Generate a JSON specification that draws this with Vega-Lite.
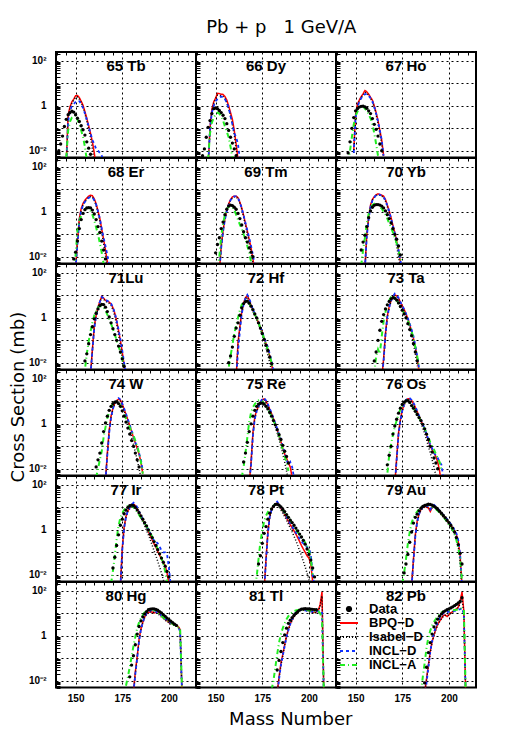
{
"$schema":"https://vega.github.io/schema/vega-lite/v6.json",
"background":"white",
"padding":{"left":9,"top":19,"right":5,"bottom":5},
"title":{"text":"Pb + p \u00a0 1 GeV/A","font":"DejaVu Sans","fontSize":18,"fontWeight":"normal","color":"black","anchor":"middle","dx":38,"offset":12},
"data":{"values":[
{"z":"65 Tb","a":141,"d":0.01},
{"z":"65 Tb","a":142,"d":0.02},
{"z":"65 Tb","a":143,"d":0.045},
{"z":"65 Tb","a":144,"d":0.12},
{"z":"65 Tb","a":145,"d":0.25,"b":0.003,"i":0.002,"n":0.003,"g":0.005},
{"z":"65 Tb","a":146,"d":0.4,"b":0.4,"i":0.3,"n":0.2,"g":0.08},
{"z":"65 Tb","a":147,"d":0.5,"b":0.9,"i":0.75,"n":0.6,"g":0.2},
{"z":"65 Tb","a":148,"d":0.58,"b":1.5,"i":1.3,"n":1.0,"g":0.3},
{"z":"65 Tb","a":149,"d":0.52,"b":2.0,"i":1.8,"n":1.2,"g":0.36},
{"z":"65 Tb","a":150,"d":0.4,"b":2.8,"i":2.4,"n":1.5,"g":0.38},
{"z":"65 Tb","a":151,"d":0.28,"b":2.9,"i":2.5,"n":1.7,"g":0.25},
{"z":"65 Tb","a":152,"d":0.2,"b":2.3,"i":2.0,"n":1.6,"g":0.15},
{"z":"65 Tb","a":153,"d":0.13,"b":1.6,"i":1.4,"n":1.2,"g":0.08},
{"z":"65 Tb","a":154,"d":0.085,"b":1.05,"i":0.9,"n":0.8,"g":0.04},
{"z":"65 Tb","a":155,"d":0.05,"b":0.55,"i":0.45,"n":0.45,"g":0.015},
{"z":"65 Tb","a":156,"d":0.025,"b":0.28,"i":0.2,"n":0.25,"g":0.004},
{"z":"65 Tb","a":157,"d":0.013,"b":0.13,"i":0.09,"n":0.12},
{"z":"65 Tb","a":158,"d":0.007,"b":0.06,"i":0.04,"n":0.06},
{"z":"65 Tb","a":159,"b":0.025,"i":0.012,"n":0.03},
{"z":"65 Tb","a":160,"b":0.008,"i":0.003,"n":0.02},
{"z":"65 Tb","a":161,"b":0.002,"n":0.012},
{"z":"65 Tb","a":162,"n":0.01},
{"z":"65 Tb","a":163,"n":0.008},
{"z":"65 Tb","a":164,"n":0.006},
{"z":"65 Tb","a":165,"n":0.003},
{"z":"66 Dy","a":143,"d":0.006},
{"z":"66 Dy","a":144,"d":0.012},
{"z":"66 Dy","a":145,"d":0.04},
{"z":"66 Dy","a":146,"d":0.11,"b":0.002,"i":0.002,"n":0.002,"g":0.004},
{"z":"66 Dy","a":147,"d":0.22,"b":0.1,"i":0.08,"n":0.1,"g":0.06},
{"z":"66 Dy","a":148,"d":0.45,"b":0.7,"i":0.6,"n":0.5,"g":0.18},
{"z":"66 Dy","a":149,"d":0.75,"b":1.5,"i":1.3,"n":1.0,"g":0.3},
{"z":"66 Dy","a":150,"d":0.8,"b":2.2,"i":2.0,"n":1.6,"g":0.42},
{"z":"66 Dy","a":151,"d":0.75,"b":3.6,"i":3.0,"n":2.0,"g":0.5},
{"z":"66 Dy","a":152,"d":0.62,"b":3.5,"i":3.0,"n":2.4,"g":0.45},
{"z":"66 Dy","a":153,"d":0.5,"b":3.3,"i":2.8,"n":2.6,"g":0.35},
{"z":"66 Dy","a":154,"d":0.38,"b":3.2,"i":2.6,"n":2.5,"g":0.22},
{"z":"66 Dy","a":155,"d":0.27,"b":2.6,"i":2.1,"n":2.0,"g":0.12},
{"z":"66 Dy","a":156,"d":0.16,"b":1.8,"i":1.4,"n":1.4,"g":0.07},
{"z":"66 Dy","a":157,"d":0.08,"b":1.0,"i":0.75,"n":0.8,"g":0.04},
{"z":"66 Dy","a":158,"d":0.04,"b":0.5,"i":0.35,"n":0.35,"g":0.015},
{"z":"66 Dy","a":159,"d":0.022,"b":0.25,"i":0.15,"n":0.15,"g":0.005},
{"z":"66 Dy","a":160,"d":0.012,"b":0.08,"i":0.05,"n":0.06},
{"z":"66 Dy","a":161,"d":0.006,"b":0.02,"i":0.012,"n":0.04},
{"z":"66 Dy","a":162,"b":0.004,"i":0.003,"n":0.02},
{"z":"66 Dy","a":163,"n":0.004},
{"z":"67 Ho","a":146,"d":0.008,"g":0.003},
{"z":"67 Ho","a":147,"d":0.025,"g":0.01},
{"z":"67 Ho","a":148,"d":0.1,"g":0.04},
{"z":"67 Ho","a":149,"d":0.3,"b":0.01,"i":0.008,"n":0.008,"g":0.15},
{"z":"67 Ho","a":150,"d":0.6,"b":0.4,"i":0.35,"n":0.3,"g":0.35},
{"z":"67 Ho","a":151,"d":0.75,"b":1.2,"i":1.0,"n":0.9,"g":0.55},
{"z":"67 Ho","a":152,"d":0.88,"b":1.8,"i":1.6,"n":1.5,"g":0.85},
{"z":"67 Ho","a":153,"d":0.95,"b":2.6,"i":2.3,"n":2.2,"g":0.95},
{"z":"67 Ho","a":154,"d":0.97,"b":3.4,"i":3.0,"n":2.8,"g":0.92},
{"z":"67 Ho","a":155,"d":0.9,"b":4.8,"i":4.0,"n":3.3,"g":0.75},
{"z":"67 Ho","a":156,"d":0.78,"b":4.2,"i":3.7,"n":3.3,"g":0.6},
{"z":"67 Ho","a":157,"d":0.6,"b":3.3,"i":2.9,"n":2.9,"g":0.42},
{"z":"67 Ho","a":158,"d":0.45,"b":2.4,"i":2.1,"n":2.2,"g":0.28},
{"z":"67 Ho","a":159,"d":0.27,"b":1.8,"i":1.5,"n":1.6,"g":0.15},
{"z":"67 Ho","a":160,"d":0.15,"b":1.0,"i":0.85,"n":0.9,"g":0.06},
{"z":"67 Ho","a":161,"d":0.09,"b":0.5,"i":0.4,"n":0.45,"g":0.02},
{"z":"67 Ho","a":162,"d":0.045,"b":0.22,"i":0.17,"n":0.2,"g":0.006},
{"z":"67 Ho","a":163,"d":0.02,"b":0.08,"i":0.06,"n":0.08},
{"z":"67 Ho","a":164,"d":0.01,"b":0.03,"i":0.02,"n":0.03},
{"z":"67 Ho","a":165,"b":0.006,"i":0.004,"n":0.006},
{"z":"68 Er","a":149,"d":0.008,"g":0.003},
{"z":"68 Er","a":150,"d":0.016,"b":0.003,"i":0.003,"n":0.003,"g":0.012},
{"z":"68 Er","a":151,"d":0.05,"b":0.05,"i":0.04,"n":0.04,"g":0.15},
{"z":"68 Er","a":152,"d":0.18,"b":0.5,"i":0.4,"n":0.4,"g":0.4},
{"z":"68 Er","a":153,"d":0.45,"b":1.4,"i":1.2,"n":1.1,"g":0.65},
{"z":"68 Er","a":154,"d":0.85,"b":2.4,"i":2.1,"n":2.0,"g":1.0},
{"z":"68 Er","a":155,"d":1.25,"b":3.3,"i":2.9,"n":2.8,"g":1.3},
{"z":"68 Er","a":156,"d":1.5,"b":4.1,"i":3.6,"n":3.5,"g":1.5},
{"z":"68 Er","a":157,"d":1.55,"b":5.0,"i":4.4,"n":4.2,"g":1.45},
{"z":"68 Er","a":158,"d":1.5,"b":5.5,"i":4.8,"n":4.6,"g":1.1},
{"z":"68 Er","a":159,"d":1.2,"b":5.2,"i":4.5,"n":4.3,"g":0.75},
{"z":"68 Er","a":160,"d":0.8,"b":3.8,"i":3.2,"n":3.4,"g":0.42},
{"z":"68 Er","a":161,"d":0.45,"b":2.3,"i":1.9,"n":2.1,"g":0.2},
{"z":"68 Er","a":162,"d":0.22,"b":1.1,"i":0.9,"n":1.05,"g":0.1},
{"z":"68 Er","a":163,"d":0.12,"b":0.5,"i":0.38,"n":0.5,"g":0.04},
{"z":"68 Er","a":164,"d":0.05,"b":0.17,"i":0.12,"n":0.18,"g":0.015},
{"z":"68 Er","a":165,"d":0.02,"b":0.06,"i":0.04,"n":0.07,"g":0.005},
{"z":"68 Er","a":166,"d":0.008,"b":0.02,"i":0.012,"n":0.03},
{"z":"68 Er","a":167,"b":0.006,"i":0.003,"n":0.012},
{"z":"68 Er","a":168,"b":0.002,"n":0.004},
{"z":"69 Tm","a":150,"d":0.015},
{"z":"69 Tm","a":151,"d":0.035,"g":0.003},
{"z":"69 Tm","a":152,"d":0.07,"b":0.002,"i":0.002,"n":0.002,"g":0.01},
{"z":"69 Tm","a":153,"d":0.18,"b":0.03,"i":0.025,"n":0.025,"g":0.08},
{"z":"69 Tm","a":154,"d":0.35,"b":0.15,"i":0.13,"n":0.13,"g":0.3},
{"z":"69 Tm","a":155,"d":0.75,"b":0.5,"i":0.45,"n":0.45,"g":0.75},
{"z":"69 Tm","a":156,"d":1.3,"b":1.2,"i":1.1,"n":1.1,"g":1.3},
{"z":"69 Tm","a":157,"d":1.8,"b":2.3,"i":2.1,"n":2.1,"g":1.7},
{"z":"69 Tm","a":158,"d":2.0,"b":3.5,"i":3.2,"n":3.3,"g":1.85},
{"z":"69 Tm","a":159,"d":1.9,"b":4.6,"i":4.2,"n":4.4,"g":1.6},
{"z":"69 Tm","a":160,"d":1.6,"b":5.0,"i":4.6,"n":4.9,"g":1.2},
{"z":"69 Tm","a":161,"d":1.3,"b":5.0,"i":4.6,"n":4.9,"g":0.75},
{"z":"69 Tm","a":162,"d":0.85,"b":4.3,"i":3.9,"n":4.1,"g":0.45},
{"z":"69 Tm","a":163,"d":0.5,"b":2.7,"i":2.4,"n":2.6,"g":0.27},
{"z":"69 Tm","a":164,"d":0.26,"b":1.5,"i":1.3,"n":1.45,"g":0.18},
{"z":"69 Tm","a":165,"d":0.13,"b":0.7,"i":0.6,"n":0.7,"g":0.1},
{"z":"69 Tm","a":166,"d":0.07,"b":0.3,"i":0.25,"n":0.32,"g":0.06},
{"z":"69 Tm","a":167,"d":0.045,"b":0.14,"i":0.1,"n":0.15,"g":0.03},
{"z":"69 Tm","a":168,"d":0.025,"b":0.06,"i":0.04,"n":0.07,"g":0.015},
{"z":"69 Tm","a":169,"d":0.016,"b":0.025,"i":0.015,"n":0.03,"g":0.006},
{"z":"69 Tm","a":170,"d":0.01,"b":0.008,"i":0.005,"n":0.012},
{"z":"69 Tm","a":171,"b":0.002,"n":0.004},
{"z":"70 Yb","a":153,"d":0.02,"g":0.004},
{"z":"70 Yb","a":154,"d":0.045,"g":0.02},
{"z":"70 Yb","a":155,"d":0.09,"b":0.003,"i":0.003,"n":0.003,"g":0.07},
{"z":"70 Yb","a":156,"d":0.22,"b":0.1,"i":0.09,"n":0.08,"g":0.3},
{"z":"70 Yb","a":157,"d":0.55,"b":0.6,"i":0.5,"n":0.5,"g":0.8},
{"z":"70 Yb","a":158,"d":1.1,"b":2.0,"i":1.8,"n":1.7,"g":1.5},
{"z":"70 Yb","a":159,"d":1.6,"b":3.6,"i":3.3,"n":3.2,"g":2.0},
{"z":"70 Yb","a":160,"d":1.95,"b":4.7,"i":4.3,"n":4.4,"g":2.3},
{"z":"70 Yb","a":161,"d":2.1,"b":5.8,"i":5.3,"n":5.6,"g":2.3},
{"z":"70 Yb","a":162,"d":2.1,"b":6.3,"i":5.8,"n":6.2,"g":2.0},
{"z":"70 Yb","a":163,"d":2.0,"b":6.0,"i":5.5,"n":5.8,"g":1.7},
{"z":"70 Yb","a":164,"d":1.8,"b":5.5,"i":5.0,"n":5.2,"g":1.4},
{"z":"70 Yb","a":165,"d":1.5,"b":5.0,"i":4.4,"n":4.6,"g":1.0},
{"z":"70 Yb","a":166,"d":1.1,"b":3.5,"i":3.0,"n":3.3,"g":0.75},
{"z":"70 Yb","a":167,"d":0.75,"b":2.0,"i":1.7,"n":1.9,"g":0.5},
{"z":"70 Yb","a":168,"d":0.5,"b":1.1,"i":0.9,"n":1.05,"g":0.3},
{"z":"70 Yb","a":169,"d":0.32,"b":0.55,"i":0.42,"n":0.5,"g":0.2},
{"z":"70 Yb","a":170,"d":0.18,"b":0.25,"i":0.18,"n":0.24,"g":0.12},
{"z":"70 Yb","a":171,"d":0.1,"b":0.12,"i":0.08,"n":0.11,"g":0.07},
{"z":"70 Yb","a":172,"d":0.06,"b":0.05,"i":0.03,"n":0.05,"g":0.04},
{"z":"70 Yb","a":173,"d":0.03,"b":0.02,"i":0.01,"n":0.02,"g":0.02},
{"z":"70 Yb","a":174,"d":0.012,"b":0.006,"i":0.003,"n":0.007,"g":0.008},
{"z":"70 Yb","a":175,"b":0.002,"n":0.002,"g":0.003},
{"z":"71Lu","a":154,"g":0.002},
{"z":"71Lu","a":155,"d":0.012,"g":0.005},
{"z":"71Lu","a":156,"d":0.025,"g":0.025},
{"z":"71Lu","a":157,"d":0.07,"g":0.09},
{"z":"71Lu","a":158,"d":0.18,"b":0.003,"i":0.003,"n":0.003,"g":0.25},
{"z":"71Lu","a":159,"d":0.4,"b":0.04,"i":0.035,"n":0.035,"g":0.6},
{"z":"71Lu","a":160,"d":0.9,"b":0.4,"i":0.35,"n":0.35,"g":1.3},
{"z":"71Lu","a":161,"d":1.6,"b":1.3,"i":1.2,"n":1.2,"g":2.0},
{"z":"71Lu","a":162,"d":2.5,"b":3.0,"i":2.7,"n":2.8,"g":2.9},
{"z":"71Lu","a":163,"d":3.5,"b":5.5,"i":5.0,"n":5.2,"g":3.4},
{"z":"71Lu","a":164,"d":4.0,"b":9.0,"i":8.0,"n":8.5,"g":3.3},
{"z":"71Lu","a":165,"d":3.9,"b":7.5,"i":6.8,"n":7.5,"g":2.9},
{"z":"71Lu","a":166,"d":3.0,"b":6.0,"i":5.5,"n":6.3,"g":2.1},
{"z":"71Lu","a":167,"d":1.9,"b":5.5,"i":5.0,"n":5.7,"g":1.4},
{"z":"71Lu","a":168,"d":1.1,"b":5.0,"i":4.4,"n":5.1,"g":0.9},
{"z":"71Lu","a":169,"d":0.6,"b":4.2,"i":3.6,"n":4.3,"g":0.55},
{"z":"71Lu","a":170,"d":0.33,"b":2.8,"i":2.3,"n":2.9,"g":0.32},
{"z":"71Lu","a":171,"d":0.18,"b":1.6,"i":1.2,"n":1.7,"g":0.18},
{"z":"71Lu","a":172,"d":0.1,"b":0.7,"i":0.5,"n":0.75,"g":0.1},
{"z":"71Lu","a":173,"d":0.055,"b":0.28,"i":0.18,"n":0.3,"g":0.055},
{"z":"71Lu","a":174,"d":0.03,"b":0.1,"i":0.06,"n":0.11,"g":0.03},
{"z":"71Lu","a":175,"d":0.015,"b":0.03,"i":0.015,"n":0.035,"g":0.015},
{"z":"71Lu","a":176,"d":0.007,"b":0.008,"i":0.004,"n":0.01,"g":0.006},
{"z":"71Lu","a":177,"b":0.002,"n":0.003},
{"z":"72 Hf","a":156,"g":0.002},
{"z":"72 Hf","a":157,"d":0.01,"g":0.006},
{"z":"72 Hf","a":158,"d":0.02,"g":0.02},
{"z":"72 Hf","a":159,"d":0.05,"g":0.06},
{"z":"72 Hf","a":160,"d":0.15,"g":0.2},
{"z":"72 Hf","a":161,"d":0.35,"b":0.002,"i":0.002,"n":0.002,"g":0.45},
{"z":"72 Hf","a":162,"d":0.6,"b":0.08,"i":0.06,"n":0.03,"g":1.0},
{"z":"72 Hf","a":163,"d":1.3,"b":0.4,"i":0.35,"n":0.25,"g":2.2},
{"z":"72 Hf","a":164,"d":2.8,"b":1.8,"i":1.6,"n":1.5,"g":3.8},
{"z":"72 Hf","a":165,"d":4.3,"b":4.5,"i":4.0,"n":4.0,"g":5.0},
{"z":"72 Hf","a":166,"d":5.3,"b":8.0,"i":7.2,"n":7.5,"g":5.7},
{"z":"72 Hf","a":167,"d":5.6,"b":9.5,"i":8.5,"n":10.5,"g":5.9},
{"z":"72 Hf","a":168,"d":4.5,"b":6.5,"i":6.0,"n":7.5,"g":4.3},
{"z":"72 Hf","a":169,"d":3.3,"b":3.5,"i":3.3,"n":4.0,"g":3.0},
{"z":"72 Hf","a":170,"d":2.3,"b":2.2,"i":2.0,"n":2.4,"g":2.0},
{"z":"72 Hf","a":171,"d":1.5,"b":1.4,"i":1.25,"n":1.5,"g":1.4},
{"z":"72 Hf","a":172,"d":1.0,"b":0.95,"i":0.85,"n":1.0,"g":1.0},
{"z":"72 Hf","a":173,"d":0.6,"b":0.6,"i":0.52,"n":0.65,"g":0.6},
{"z":"72 Hf","a":174,"d":0.35,"b":0.38,"i":0.3,"n":0.4,"g":0.35},
{"z":"72 Hf","a":175,"d":0.2,"b":0.22,"i":0.17,"n":0.24,"g":0.2},
{"z":"72 Hf","a":176,"d":0.11,"b":0.12,"i":0.09,"n":0.13,"g":0.12},
{"z":"72 Hf","a":177,"d":0.06,"b":0.07,"i":0.045,"n":0.08,"g":0.07},
{"z":"72 Hf","a":178,"d":0.035,"b":0.04,"i":0.022,"n":0.05,"g":0.035},
{"z":"72 Hf","a":179,"d":0.018,"b":0.02,"i":0.01,"n":0.025,"g":0.02},
{"z":"72 Hf","a":180,"d":0.009,"b":0.009,"i":0.004,"n":0.012,"g":0.01},
{"z":"72 Hf","a":181,"b":0.003,"n":0.005,"g":0.004},
{"z":"73 Ta","a":160,"d":0.012,"g":0.003},
{"z":"73 Ta","a":161,"d":0.03,"g":0.02},
{"z":"73 Ta","a":162,"d":0.1,"g":0.04},
{"z":"73 Ta","a":163,"d":0.28,"g":0.025},
{"z":"73 Ta","a":164,"d":0.7,"b":0.002,"i":0.002,"n":0.002,"g":0.15},
{"z":"73 Ta","a":165,"d":1.4,"b":0.015,"i":0.012,"n":0.012,"g":0.7},
{"z":"73 Ta","a":166,"d":2.5,"b":0.2,"i":0.17,"n":0.18,"g":1.8},
{"z":"73 Ta","a":167,"d":3.8,"b":1.2,"i":1.0,"n":1.1,"g":3.8},
{"z":"73 Ta","a":168,"d":5.4,"b":3.2,"i":2.9,"n":3.0,"g":6.0},
{"z":"73 Ta","a":169,"d":7.0,"b":5.8,"i":5.3,"n":5.8,"g":8.5},
{"z":"73 Ta","a":170,"d":7.9,"b":8.5,"i":7.8,"n":9.0,"g":9.3},
{"z":"73 Ta","a":171,"d":7.4,"b":10.5,"i":9.5,"n":12,"g":8.0},
{"z":"73 Ta","a":172,"d":6.2,"b":9.5,"i":8.6,"n":10,"g":6.0},
{"z":"73 Ta","a":173,"d":4.6,"b":7.5,"i":6.6,"n":7.8,"g":4.3},
{"z":"73 Ta","a":174,"d":3.2,"b":5.0,"i":4.4,"n":5.2,"g":3.0},
{"z":"73 Ta","a":175,"d":2.2,"b":3.4,"i":2.9,"n":3.5,"g":2.2},
{"z":"73 Ta","a":176,"d":1.5,"b":2.4,"i":2.0,"n":2.4,"g":1.6},
{"z":"73 Ta","a":177,"d":1.0,"b":1.5,"i":1.2,"n":1.55,"g":1.1},
{"z":"73 Ta","a":178,"d":0.55,"b":0.9,"i":0.7,"n":0.95,"g":0.75},
{"z":"73 Ta","a":179,"d":0.3,"b":0.5,"i":0.36,"n":0.55,"g":0.45},
{"z":"73 Ta","a":180,"d":0.16,"b":0.25,"i":0.17,"n":0.3,"g":0.25},
{"z":"73 Ta","a":181,"d":0.07,"b":0.12,"i":0.07,"n":0.15,"g":0.12},
{"z":"73 Ta","a":182,"d":0.03,"b":0.05,"i":0.025,"n":0.06,"g":0.05},
{"z":"73 Ta","a":183,"d":0.012,"b":0.015,"i":0.007,"n":0.02,"g":0.02},
{"z":"73 Ta","a":184,"b":0.004,"n":0.006,"g":0.006},
{"z":"74 W","a":161,"d":0.012,"g":0.004},
{"z":"74 W","a":162,"d":0.025,"g":0.01},
{"z":"74 W","a":163,"d":0.05,"g":0.025},
{"z":"74 W","a":164,"d":0.14,"g":0.06},
{"z":"74 W","a":165,"d":0.45,"g":0.25},
{"z":"74 W","a":166,"d":1.1,"b":0.003,"i":0.003,"n":0.003,"g":0.7},
{"z":"74 W","a":167,"d":2.2,"b":0.05,"i":0.04,"n":0.04,"g":1.8},
{"z":"74 W","a":168,"d":4.0,"b":0.5,"i":0.45,"n":0.4,"g":3.5},
{"z":"74 W","a":169,"d":6.0,"b":2.2,"i":2.0,"n":1.9,"g":5.5},
{"z":"74 W","a":170,"d":8.0,"b":5.0,"i":4.6,"n":4.6,"g":8.0},
{"z":"74 W","a":171,"d":9.3,"b":8.5,"i":7.8,"n":8.5,"g":9.5},
{"z":"74 W","a":172,"d":9.5,"b":11,"i":10,"n":12,"g":9.8},
{"z":"74 W","a":173,"d":8.0,"b":12.5,"i":11,"n":14,"g":9.0},
{"z":"74 W","a":174,"d":6.0,"b":11.5,"i":10,"n":12,"g":6.5},
{"z":"74 W","a":175,"d":3.8,"b":7.5,"i":6.5,"n":8,"g":4.0},
{"z":"74 W","a":176,"d":2.2,"b":4.5,"i":3.8,"n":4.8,"g":2.6},
{"z":"74 W","a":177,"d":1.2,"b":2.6,"i":2.1,"n":2.8,"g":1.7},
{"z":"74 W","a":178,"d":0.65,"b":1.5,"i":1.1,"n":1.6,"g":1.1},
{"z":"74 W","a":179,"d":0.35,"b":0.85,"i":0.55,"n":0.9,"g":0.7},
{"z":"74 W","a":180,"d":0.18,"b":0.45,"i":0.26,"n":0.5,"g":0.45},
{"z":"74 W","a":181,"d":0.1,"b":0.25,"i":0.12,"n":0.28,"g":0.3},
{"z":"74 W","a":182,"d":0.05,"b":0.14,"i":0.055,"n":0.15,"g":0.18},
{"z":"74 W","a":183,"d":0.025,"b":0.08,"i":0.025,"n":0.09,"g":0.1},
{"z":"74 W","a":184,"d":0.012,"b":0.045,"i":0.01,"n":0.05,"g":0.05},
{"z":"74 W","a":185,"b":0.02,"i":0.004,"n":0.025,"g":0.02},
{"z":"74 W","a":186,"b":0.006,"n":0.008,"g":0.006},
{"z":"75 Re","a":164,"g":0.004},
{"z":"75 Re","a":165,"d":0.02,"g":0.012},
{"z":"75 Re","a":166,"d":0.05,"g":0.05},
{"z":"75 Re","a":167,"d":0.15,"g":0.25},
{"z":"75 Re","a":168,"d":0.45,"b":0.002,"i":0.002,"n":0.002,"g":1.2},
{"z":"75 Re","a":169,"d":1.0,"b":0.02,"i":0.018,"n":0.015,"g":3.2},
{"z":"75 Re","a":170,"d":2.2,"b":0.4,"i":0.35,"n":0.3,"g":5.5},
{"z":"75 Re","a":171,"d":4.0,"b":2.0,"i":1.8,"n":1.7,"g":7.6},
{"z":"75 Re","a":172,"d":6.0,"b":4.0,"i":3.6,"n":3.7,"g":9.5},
{"z":"75 Re","a":173,"d":7.6,"b":6.0,"i":5.4,"n":6.0,"g":11},
{"z":"75 Re","a":174,"d":8.3,"b":8.5,"i":7.6,"n":9.0,"g":11.5},
{"z":"75 Re","a":175,"d":8.4,"b":12,"i":10.5,"n":13,"g":10},
{"z":"75 Re","a":176,"d":7.5,"b":13,"i":11.5,"n":14,"g":8.2},
{"z":"75 Re","a":177,"d":6.0,"b":10,"i":9.0,"n":11,"g":6.2},
{"z":"75 Re","a":178,"d":4.6,"b":7.0,"i":6.2,"n":7.5,"g":4.4},
{"z":"75 Re","a":179,"d":3.2,"b":4.5,"i":3.9,"n":4.8,"g":3.1},
{"z":"75 Re","a":180,"d":2.2,"b":2.8,"i":2.3,"n":3.0,"g":2.2},
{"z":"75 Re","a":181,"d":1.4,"b":1.7,"i":1.35,"n":1.8,"g":1.4},
{"z":"75 Re","a":182,"d":0.9,"b":1.0,"i":0.75,"n":1.05,"g":0.9},
{"z":"75 Re","a":183,"d":0.55,"b":0.55,"i":0.4,"n":0.6,"g":0.55},
{"z":"75 Re","a":184,"d":0.33,"b":0.3,"i":0.2,"n":0.35,"g":0.3},
{"z":"75 Re","a":185,"d":0.2,"b":0.16,"i":0.1,"n":0.2,"g":0.15},
{"z":"75 Re","a":186,"d":0.11,"b":0.08,"i":0.045,"n":0.1,"g":0.07},
{"z":"75 Re","a":187,"d":0.06,"b":0.045,"i":0.02,"n":0.05,"g":0.035},
{"z":"75 Re","a":188,"d":0.035,"b":0.03,"i":0.008,"n":0.025,"g":0.02},
{"z":"75 Re","a":189,"d":0.018,"b":0.018,"i":0.003,"n":0.015,"g":0.008},
{"z":"75 Re","a":190,"b":0.012,"n":0.02},
{"z":"75 Re","a":191,"b":0.004,"n":0.012},
{"z":"75 Re","a":192,"n":0.004},
{"z":"76 Os","a":166,"g":0.002},
{"z":"76 Os","a":167,"d":0.015,"g":0.006},
{"z":"76 Os","a":168,"d":0.04,"g":0.04},
{"z":"76 Os","a":169,"d":0.1,"g":0.12},
{"z":"76 Os","a":170,"d":0.35,"g":0.32},
{"z":"76 Os","a":171,"d":0.8,"b":0.002,"i":0.002,"n":0.002,"g":0.75},
{"z":"76 Os","a":172,"d":1.6,"b":0.03,"i":0.025,"n":0.025,"g":1.4},
{"z":"76 Os","a":173,"d":3.0,"b":0.4,"i":0.35,"n":0.35,"g":2.6},
{"z":"76 Os","a":174,"d":5.0,"b":1.5,"i":1.4,"n":1.4,"g":4.5},
{"z":"76 Os","a":175,"d":7.3,"b":4.0,"i":3.7,"n":3.8,"g":6.5},
{"z":"76 Os","a":176,"d":9.3,"b":7.5,"i":6.8,"n":7.5,"g":8.5},
{"z":"76 Os","a":177,"d":10.5,"b":11,"i":10,"n":11.5,"g":10.5},
{"z":"76 Os","a":178,"d":10.8,"b":13,"i":11.5,"n":14,"g":11},
{"z":"76 Os","a":179,"d":9.0,"b":13,"i":11.5,"n":14,"g":9.0},
{"z":"76 Os","a":180,"d":6.5,"b":11,"i":9.6,"n":11.5,"g":7.0},
{"z":"76 Os","a":181,"d":5.0,"b":8.0,"i":7.0,"n":8.5,"g":5.0},
{"z":"76 Os","a":182,"d":3.6,"b":5.5,"i":4.7,"n":5.8,"g":3.6},
{"z":"76 Os","a":183,"d":2.6,"b":3.5,"i":2.9,"n":3.7,"g":2.6},
{"z":"76 Os","a":184,"d":1.9,"b":2.2,"i":1.8,"n":2.3,"g":1.9},
{"z":"76 Os","a":185,"d":1.4,"b":1.4,"i":1.1,"n":1.5,"g":1.3},
{"z":"76 Os","a":186,"d":0.95,"b":0.9,"i":0.65,"n":0.95,"g":0.9},
{"z":"76 Os","a":187,"d":0.6,"b":0.55,"i":0.38,"n":0.6,"g":0.6},
{"z":"76 Os","a":188,"d":0.35,"b":0.32,"i":0.2,"n":0.35,"g":0.4},
{"z":"76 Os","a":189,"d":0.2,"b":0.18,"i":0.1,"n":0.2,"g":0.25},
{"z":"76 Os","a":190,"d":0.1,"b":0.1,"i":0.05,"n":0.12,"g":0.15},
{"z":"76 Os","a":191,"d":0.055,"b":0.07,"i":0.025,"n":0.08,"g":0.1},
{"z":"76 Os","a":192,"d":0.03,"b":0.05,"i":0.012,"n":0.05,"g":0.07},
{"z":"76 Os","a":193,"d":0.018,"b":0.035,"i":0.005,"n":0.04,"g":0.045},
{"z":"76 Os","a":194,"d":0.01,"b":0.02,"n":0.03,"g":0.03},
{"z":"76 Os","a":195,"b":0.008,"n":0.02,"g":0.02},
{"z":"76 Os","a":196,"b":0.002,"n":0.015,"g":0.008},
{"z":"76 Os","a":197,"n":0.004},
{"z":"77 Ir","a":169,"g":0.004},
{"z":"77 Ir","a":170,"d":0.02,"g":0.015},
{"z":"77 Ir","a":171,"d":0.06,"g":0.07},
{"z":"77 Ir","a":172,"d":0.2,"g":0.4},
{"z":"77 Ir","a":173,"d":0.6,"g":1.5},
{"z":"77 Ir","a":174,"d":1.6,"b":0.003,"i":0.003,"n":0.003,"g":3.5},
{"z":"77 Ir","a":175,"d":3.0,"b":0.15,"i":0.13,"n":0.12,"g":5.5},
{"z":"77 Ir","a":176,"d":5.2,"b":1.3,"i":1.2,"n":1.2,"g":7.8},
{"z":"77 Ir","a":177,"d":7.5,"b":4.0,"i":3.7,"n":3.8,"g":10},
{"z":"77 Ir","a":178,"d":10,"b":7.0,"i":6.5,"n":7.0,"g":12},
{"z":"77 Ir","a":179,"d":11.8,"b":9.5,"i":8.8,"n":10,"g":13},
{"z":"77 Ir","a":180,"d":12.7,"b":12,"i":11,"n":13,"g":12},
{"z":"77 Ir","a":181,"d":12,"b":14,"i":12.5,"n":16,"g":10},
{"z":"77 Ir","a":182,"d":10,"b":12,"i":10.8,"n":14,"g":8.2},
{"z":"77 Ir","a":183,"d":7.8,"b":8.5,"i":7.6,"n":10,"g":6.2},
{"z":"77 Ir","a":184,"d":5.8,"b":5.8,"i":5.1,"n":6.5,"g":4.6},
{"z":"77 Ir","a":185,"d":4.2,"b":4.0,"i":3.4,"n":4.5,"g":3.5},
{"z":"77 Ir","a":186,"d":3.0,"b":2.8,"i":2.3,"n":3.0,"g":2.6},
{"z":"77 Ir","a":187,"d":2.1,"b":1.9,"i":1.5,"n":2.0,"g":1.9},
{"z":"77 Ir","a":188,"d":1.5,"b":1.3,"i":0.95,"n":1.4,"g":1.4},
{"z":"77 Ir","a":189,"d":1.0,"b":0.85,"i":0.6,"n":1.0,"g":1.05},
{"z":"77 Ir","a":190,"d":0.65,"b":0.55,"i":0.36,"n":0.7,"g":0.75},
{"z":"77 Ir","a":191,"d":0.45,"b":0.36,"i":0.21,"n":0.45,"g":0.5},
{"z":"77 Ir","a":192,"d":0.3,"b":0.24,"i":0.12,"n":0.35,"g":0.33},
{"z":"77 Ir","a":193,"d":0.2,"b":0.17,"i":0.07,"n":0.3,"g":0.22},
{"z":"77 Ir","a":194,"d":0.13,"b":0.11,"i":0.04,"n":0.25,"g":0.14},
{"z":"77 Ir","a":195,"d":0.085,"b":0.075,"i":0.022,"n":0.18,"g":0.09},
{"z":"77 Ir","a":196,"d":0.055,"b":0.05,"i":0.012,"n":0.12,"g":0.055},
{"z":"77 Ir","a":197,"d":0.036,"b":0.035,"i":0.006,"n":0.1,"g":0.03},
{"z":"77 Ir","a":198,"d":0.024,"b":0.025,"i":0.003,"n":0.1,"g":0.014},
{"z":"77 Ir","a":199,"d":0.014,"b":0.012,"n":0.08,"g":0.005},
{"z":"77 Ir","a":200,"d":0.008,"b":0.004,"n":0.02},
{"z":"77 Ir","a":201,"n":0.003},
{"z":"78 Pt","a":171,"g":0.003},
{"z":"78 Pt","a":172,"g":0.008},
{"z":"78 Pt","a":173,"d":0.03,"g":0.05},
{"z":"78 Pt","a":174,"d":0.07,"g":0.3},
{"z":"78 Pt","a":175,"d":0.25,"g":0.9},
{"z":"78 Pt","a":176,"d":0.7,"b":0.002,"i":0.002,"n":0.002,"g":2.4},
{"z":"78 Pt","a":177,"d":1.4,"b":0.05,"i":0.04,"n":0.04,"g":4.2},
{"z":"78 Pt","a":178,"d":3.0,"b":0.8,"i":0.7,"n":0.7,"g":6.2},
{"z":"78 Pt","a":179,"d":5.5,"b":4.0,"i":3.6,"n":3.8,"g":8.0},
{"z":"78 Pt","a":180,"d":8.4,"b":8.0,"i":7.3,"n":8.0,"g":10},
{"z":"78 Pt","a":181,"d":11,"b":11,"i":10,"n":11.5,"g":12},
{"z":"78 Pt","a":182,"d":13.5,"b":13.5,"i":12.2,"n":14.5,"g":13.5},
{"z":"78 Pt","a":183,"d":14,"b":16,"i":14,"n":18,"g":14},
{"z":"78 Pt","a":184,"d":12.5,"b":12.5,"i":11,"n":14,"g":12},
{"z":"78 Pt","a":185,"d":10.5,"b":9.0,"i":7.8,"n":10,"g":9.5},
{"z":"78 Pt","a":186,"d":8.2,"b":6.5,"i":5.5,"n":7.2,"g":7.5},
{"z":"78 Pt","a":187,"d":6.5,"b":4.8,"i":3.9,"n":5.2,"g":5.8},
{"z":"78 Pt","a":188,"d":4.8,"b":3.4,"i":2.7,"n":3.7,"g":4.5},
{"z":"78 Pt","a":189,"d":3.6,"b":2.4,"i":1.8,"n":2.7,"g":3.6},
{"z":"78 Pt","a":190,"d":2.7,"b":1.7,"i":1.2,"n":1.9,"g":2.7},
{"z":"78 Pt","a":191,"d":2.1,"b":1.25,"i":0.8,"n":1.4,"g":2.0},
{"z":"78 Pt","a":192,"d":1.6,"b":0.9,"i":0.52,"n":1.0,"g":1.45},
{"z":"78 Pt","a":193,"d":1.2,"b":0.65,"i":0.33,"n":0.75,"g":1.1},
{"z":"78 Pt","a":194,"d":0.9,"b":0.45,"i":0.2,"n":0.55,"g":0.8},
{"z":"78 Pt","a":195,"d":0.65,"b":0.3,"i":0.12,"n":0.4,"g":0.6},
{"z":"78 Pt","a":196,"d":0.48,"b":0.2,"i":0.07,"n":0.3,"g":0.45},
{"z":"78 Pt","a":197,"d":0.34,"b":0.14,"i":0.04,"n":0.25,"g":0.35},
{"z":"78 Pt","a":198,"d":0.23,"b":0.1,"i":0.022,"n":0.2,"g":0.27},
{"z":"78 Pt","a":199,"d":0.14,"b":0.07,"i":0.012,"n":0.17,"g":0.2},
{"z":"78 Pt","a":200,"d":0.08,"b":0.055,"i":0.006,"n":0.15,"g":0.12},
{"z":"78 Pt","a":201,"d":0.045,"b":0.03,"i":0.003,"n":0.08,"g":0.05},
{"z":"78 Pt","a":202,"d":0.02,"b":0.005,"n":0.01,"g":0.01},
{"z":"78 Pt","a":203,"d":0.008,"n":0.003},
{"z":"79 Au","a":175,"g":0.004},
{"z":"79 Au","a":176,"d":0.012,"g":0.012},
{"z":"79 Au","a":177,"d":0.03,"g":0.05},
{"z":"79 Au","a":178,"d":0.08,"g":0.25},
{"z":"79 Au","a":179,"d":0.28,"g":0.8},
{"z":"79 Au","a":180,"d":0.8,"b":0.003,"i":0.003,"n":0.003,"g":2.0},
{"z":"79 Au","a":181,"d":2.0,"b":0.05,"i":0.045,"n":0.04,"g":3.5},
{"z":"79 Au","a":182,"d":3.6,"b":0.6,"i":0.55,"n":0.5,"g":5.0},
{"z":"79 Au","a":183,"d":5.0,"b":2.5,"i":2.3,"n":2.3,"g":6.5},
{"z":"79 Au","a":184,"d":7.0,"b":5.0,"i":4.6,"n":5.0,"g":8.2},
{"z":"79 Au","a":185,"d":9.2,"b":8.0,"i":7.4,"n":8.0,"g":10},
{"z":"79 Au","a":186,"d":11,"b":10,"i":9.2,"n":10,"g":11.5},
{"z":"79 Au","a":187,"d":12.2,"b":11,"i":10.2,"n":11.5,"g":12.2},
{"z":"79 Au","a":188,"d":13,"b":10.5,"i":10.2,"n":12,"g":12.7},
{"z":"79 Au","a":189,"d":13.8,"b":9.5,"i":9.6,"n":11,"g":12.7},
{"z":"79 Au","a":190,"d":13.5,"b":6.5,"i":8.6,"n":8.0,"g":12},
{"z":"79 Au","a":191,"d":12.5,"b":10,"i":9.5,"n":11,"g":10.5},
{"z":"79 Au","a":192,"d":11.3,"b":12,"i":10.5,"n":13,"g":9.5},
{"z":"79 Au","a":193,"d":9.8,"b":10,"i":9.2,"n":11,"g":8.4},
{"z":"79 Au","a":194,"d":8.2,"b":8.0,"i":7.4,"n":9.0,"g":7.0},
{"z":"79 Au","a":195,"d":6.8,"b":6.5,"i":5.9,"n":7.2,"g":5.8},
{"z":"79 Au","a":196,"d":5.5,"b":5.0,"i":4.6,"n":5.8,"g":4.8},
{"z":"79 Au","a":197,"d":4.4,"b":4.0,"i":3.6,"n":4.6,"g":3.9},
{"z":"79 Au","a":198,"d":3.5,"b":3.2,"i":2.8,"n":3.7,"g":3.0},
{"z":"79 Au","a":199,"d":2.7,"b":2.6,"i":2.2,"n":3.0,"g":2.3},
{"z":"79 Au","a":200,"d":2.1,"b":2.0,"i":1.7,"n":2.3,"g":1.7},
{"z":"79 Au","a":201,"d":1.6,"b":1.6,"i":1.3,"n":1.8,"g":1.3},
{"z":"79 Au","a":202,"d":1.2,"b":1.2,"i":0.95,"n":1.4,"g":1.0},
{"z":"79 Au","a":203,"d":0.8,"b":0.9,"i":0.65,"n":1.0,"g":0.65},
{"z":"79 Au","a":204,"d":0.45,"b":0.6,"i":0.4,"n":0.7,"g":0.35},
{"z":"79 Au","a":205,"d":0.22,"b":0.3,"i":0.18,"n":0.35,"g":0.15},
{"z":"79 Au","a":206,"d":0.09,"b":0.07,"i":0.04,"n":0.08,"g":0.06},
{"z":"79 Au","a":207,"d":0.03,"b":0.003,"i":0.002,"n":0.003,"g":0.005},
{"z":"80 Hg","a":177,"g":0.006},
{"z":"80 Hg","a":178,"g":0.015},
{"z":"80 Hg","a":179,"d":0.015,"g":0.04},
{"z":"80 Hg","a":180,"d":0.05,"g":0.12},
{"z":"80 Hg","a":181,"d":0.13,"b":0.003,"i":0.003,"n":0.003,"g":0.35},
{"z":"80 Hg","a":182,"d":0.4,"b":0.025,"i":0.02,"n":0.02,"g":0.9},
{"z":"80 Hg","a":183,"d":1.2,"b":0.12,"i":0.11,"n":0.1,"g":2.2},
{"z":"80 Hg","a":184,"d":2.6,"b":0.7,"i":0.65,"n":0.6,"g":4.0},
{"z":"80 Hg","a":185,"d":4.6,"b":2.0,"i":1.9,"n":1.9,"g":6.0},
{"z":"80 Hg","a":186,"d":7.0,"b":4.0,"i":3.8,"n":4.0,"g":8.5},
{"z":"80 Hg","a":187,"d":9.5,"b":7.0,"i":6.6,"n":7.0,"g":11},
{"z":"80 Hg","a":188,"d":12,"b":9.5,"i":9.0,"n":10,"g":13.5},
{"z":"80 Hg","a":189,"d":14.5,"b":11,"i":10.5,"n":12,"g":14.6},
{"z":"80 Hg","a":190,"d":15.6,"b":12,"i":11.5,"n":13.5,"g":15},
{"z":"80 Hg","a":191,"d":16,"b":11.5,"i":11.8,"n":13.5,"g":15},
{"z":"80 Hg","a":192,"d":16,"b":10.5,"i":11.3,"n":12.5,"g":14.6},
{"z":"80 Hg","a":193,"d":15,"b":11.5,"i":10.5,"n":12,"g":13},
{"z":"80 Hg","a":194,"d":13.8,"b":12,"i":9.6,"n":11,"g":11},
{"z":"80 Hg","a":195,"d":12,"b":9.5,"i":8.3,"n":9.5,"g":9.2},
{"z":"80 Hg","a":196,"d":10.5,"b":7.5,"i":7.0,"n":8.0,"g":7.8},
{"z":"80 Hg","a":197,"d":8.8,"b":6.2,"i":5.9,"n":6.8,"g":6.6},
{"z":"80 Hg","a":198,"d":7.4,"b":5.3,"i":5.0,"n":5.8,"g":5.7},
{"z":"80 Hg","a":199,"d":6.2,"b":4.6,"i":4.3,"n":5.0,"g":5.0},
{"z":"80 Hg","a":200,"d":5.2,"b":4.0,"i":3.8,"n":4.3,"g":4.4},
{"z":"80 Hg","a":201,"d":4.5,"b":3.6,"i":3.4,"n":3.8,"g":3.9},
{"z":"80 Hg","a":202,"d":3.9,"b":3.4,"i":3.1,"n":3.4,"g":3.4},
{"z":"80 Hg","a":203,"d":3.3,"b":3.2,"i":2.9,"n":3.1,"g":3.0},
{"z":"80 Hg","a":204,"d":2.9,"b":3.0,"i":2.7,"n":2.8,"g":2.7},
{"z":"80 Hg","a":205,"b":2.6,"i":2.4,"n":2.4,"g":2.4},
{"z":"80 Hg","a":206,"b":1.9,"i":1.7,"n":1.6,"g":2.2},
{"z":"80 Hg","a":207,"b":0.003,"i":0.003,"n":0.003,"g":0.004},
{"z":"81 Tl","a":180,"g":0.004},
{"z":"81 Tl","a":181,"g":0.01},
{"z":"81 Tl","a":182,"g":0.04},
{"z":"81 Tl","a":183,"d":0.03,"b":0.003,"i":0.003,"n":0.002,"g":0.15},
{"z":"81 Tl","a":184,"d":0.08,"b":0.015,"i":0.013,"n":0.012,"g":0.5},
{"z":"81 Tl","a":185,"d":0.2,"b":0.06,"i":0.05,"n":0.05,"g":1.2},
{"z":"81 Tl","a":186,"d":0.5,"b":0.15,"i":0.13,"n":0.13,"g":2.2},
{"z":"81 Tl","a":187,"d":1.1,"b":0.4,"i":0.36,"n":0.35,"g":3.6},
{"z":"81 Tl","a":188,"d":2.2,"b":1.0,"i":0.9,"n":0.9,"g":5.5},
{"z":"81 Tl","a":189,"d":3.6,"b":2.0,"i":1.8,"n":1.8,"g":7.5},
{"z":"81 Tl","a":190,"d":5.0,"b":3.5,"i":3.2,"n":3.4,"g":9.5},
{"z":"81 Tl","a":191,"d":6.5,"b":5.2,"i":4.8,"n":5.5,"g":11},
{"z":"81 Tl","a":192,"d":8.2,"b":7.5,"i":7.0,"n":8.0,"g":12.5},
{"z":"81 Tl","a":193,"d":10,"b":10,"i":9.3,"n":11,"g":13.5},
{"z":"81 Tl","a":194,"d":12,"b":12,"i":11.2,"n":13,"g":14.3},
{"z":"81 Tl","a":195,"d":14,"b":14,"i":13,"n":13.5,"g":14.6},
{"z":"81 Tl","a":196,"d":15.5,"b":15,"i":14,"n":14,"g":14.6},
{"z":"81 Tl","a":197,"d":16,"b":14.6,"i":13.8,"n":14,"g":14.6},
{"z":"81 Tl","a":198,"d":16.2,"b":14.6,"i":13.6,"n":13.5,"g":14.6},
{"z":"81 Tl","a":199,"d":16,"b":14,"i":13,"n":13,"g":14},
{"z":"81 Tl","a":200,"d":15.8,"b":13,"i":12.2,"n":12.5,"g":13.5},
{"z":"81 Tl","a":201,"d":15.6,"b":12.3,"i":11.6,"n":12,"g":13},
{"z":"81 Tl","a":202,"d":15.2,"b":11.5,"i":11,"n":12,"g":12.5},
{"z":"81 Tl","a":203,"d":14.8,"b":11,"i":10.6,"n":12,"g":12.3},
{"z":"81 Tl","a":204,"d":14.5,"b":11.5,"i":11,"n":12,"g":12.3},
{"z":"81 Tl","a":205,"b":13,"i":12.5,"n":12.5,"g":12.3},
{"z":"81 Tl","a":206,"b":25,"i":22,"n":13,"g":10},
{"z":"81 Tl","a":207,"b":90,"i":60,"n":12,"g":6},
{"z":"81 Tl","a":208,"b":0.002,"i":0.002,"n":0.002,"g":0.003},
{"z":"82 Pb","a":185,"g":0.003},
{"z":"82 Pb","a":186,"g":0.015},
{"z":"82 Pb","a":187,"d":0.008,"b":0.003,"i":0.003,"n":0.002,"g":0.06},
{"z":"82 Pb","a":188,"d":0.04,"b":0.012,"i":0.011,"n":0.008,"g":0.3},
{"z":"82 Pb","a":189,"d":0.18,"b":0.05,"i":0.045,"n":0.04,"g":0.85},
{"z":"82 Pb","a":190,"d":0.5,"b":0.2,"i":0.18,"n":0.2,"g":1.7},
{"z":"82 Pb","a":191,"d":1.2,"b":0.55,"i":0.5,"n":0.6,"g":2.9},
{"z":"82 Pb","a":192,"d":2.5,"b":1.1,"i":1.0,"n":1.4,"g":4.2},
{"z":"82 Pb","a":193,"d":3.8,"b":2.0,"i":1.9,"n":2.6,"g":5.6},
{"z":"82 Pb","a":194,"d":5.5,"b":3.3,"i":3.1,"n":4.2,"g":7.5},
{"z":"82 Pb","a":195,"d":7.5,"b":4.5,"i":4.3,"n":6.0,"g":9.5},
{"z":"82 Pb","a":196,"d":9.5,"b":6.0,"i":5.8,"n":8.0,"g":11},
{"z":"82 Pb","a":197,"d":11.5,"b":8.0,"i":7.4,"n":10,"g":12},
{"z":"82 Pb","a":198,"d":13,"b":8.5,"i":8.2,"n":11,"g":12.6},
{"z":"82 Pb","a":199,"d":14.5,"b":7.3,"i":8.0,"n":11.5,"g":13},
{"z":"82 Pb","a":200,"d":16,"b":8.5,"i":8.6,"n":12,"g":13.4},
{"z":"82 Pb","a":201,"d":17.5,"b":10.5,"i":10,"n":12.3,"g":13.6},
{"z":"82 Pb","a":202,"d":19.5,"b":12,"i":11.5,"n":12.5,"g":13.8},
{"z":"82 Pb","a":203,"d":22,"b":14,"i":13,"n":12.8,"g":14},
{"z":"82 Pb","a":204,"d":25,"b":16,"i":15,"n":13.5,"g":14.4},
{"z":"82 Pb","a":205,"d":29,"b":19,"i":18,"n":14.5,"g":15},
{"z":"82 Pb","a":206,"d":34,"b":35,"i":26,"n":15.5,"g":16},
{"z":"82 Pb","a":207,"d":50,"b":90,"i":50,"n":17,"g":17},
{"z":"82 Pb","a":208,"b":12,"i":10,"n":9,"g":14.6},
{"z":"82 Pb","a":209,"b":0.002,"i":0.002,"n":0.002,"g":0.002}
]},
"transform":[{"fold":["d","b","i","n","g"],"as":["s","v"]},{"filter":"isValid(datum.v)"}],
"vconcat":[{
"title":{"text":"Cross Section (mb)","orient":"left","font":"DejaVu Sans","fontSize":18,"fontWeight":"normal","color":"black","anchor":"middle","offset":1,"dx":-8},
"vconcat":[{
"title":{"text":"Mass Number","orient":"bottom","font":"DejaVu Sans","fontSize":18,"fontWeight":"normal","color":"black","anchor":"middle","dx":38,"offset":8},
"facet":{"field":"z","type":"nominal","header":{"labels":false,"labelExpr":"''","labelFontSize":0,"labelPadding":0,"title":null}},
"columns":3,
"spacing":0,
"bounds":"flush",
"spec":{
"width":140,"height":105.5,
"encoding":{
"x":{"field":"a","type":"quantitative","scale":{"domain":[139.5,214.5],"nice":false,"zero":false},
"axis":{"title":null,"values":[140,145,150,155,160,165,170,175,180,185,190,195,200,205,210],
"labelExpr":"(datum.value==150||datum.value==175||datum.value==200) ? datum.label : ''",
"labelOverlap":false,"labelFlush":false,"labelPadding":5,"grid":true,
"gridDash":{"condition":{"test":"datum.value==150||datum.value==175||datum.value==200","value":[2,3]},"value":[3,400]}}},
"y":{"field":"v","type":"quantitative","scale":{"type":"log","domain":[0.005,250],"nice":false},
"axis":{"title":null,"values":[0.005,0.006,0.007,0.008,0.009,0.01,0.02,0.03,0.04,0.05,0.06,0.07,0.08,0.09,0.1,0.2,0.3,0.4,0.5,0.6,0.7,0.8,0.9,1,2,3,4,5,6,7,8,9,10,20,30,40,50,60,70,80,90,100,200],
"labelExpr":"datum.value==100 ? '10²' : datum.value==1 ? '1' : datum.value==0.01 ? '10⁻²' : ''",
"labelOverlap":false,"labelPadding":10,"grid":true,
"gridDash":{"condition":{"test":"datum.value==0.01||datum.value==0.1||datum.value==1||datum.value==10||datum.value==100","value":[2,3]},"value":[4,400]}}}
},
"layer":[
{"transform":[{"filter":"datum.s==='b'"}],"mark":{"type":"line","clip":true,"strokeWidth":1.5},
"encoding":{
"color":{"field":"s","type":"nominal","scale":{"domain":["d","b","i","n","g"],"range":["black","#ff0000","black","#1030ff","#22ee22"]},
"legend":{"orient":"none","legendX":286,"legendY":550,"title":null,"padding":0,"rowPadding":-0.5,
"labelExpr":"datum.label=='d' ? 'Data' : datum.label=='b' ? 'BPQ−D' : datum.label=='i' ? 'Isabel−D' : datum.label=='n' ? 'INCL−D' : 'INCL−A'",
"labelFont":"Liberation Sans","labelFontSize":13,"labelFontWeight":"bold","labelColor":"black","labelOffset":13,
"symbolType":"M-1.5,0H1.5","symbolSize":144,"symbolStrokeWidth":2,
"encode":{"symbols":{"update":{"shape":{"signal":"datum.value==='d' ? 'circle' : 'M-1.5,0H1.5'"},"fill":{"signal":"datum.value==='d' ? 'black' : 'transparent'"},"size":{"signal":"datum.value==='d' ? 18 : 144"}}}}}},
"strokeDash":{"field":"s","type":"nominal","scale":{"domain":["d","b","i","n","g"],"range":[[1,0],[1,0],[1,2],[3,3],[5,3,1,3]]},
"legend":{"orient":"none","legendX":286,"legendY":550,"title":null,"padding":0,"rowPadding":-0.5,
"labelExpr":"datum.label=='d' ? 'Data' : datum.label=='b' ? 'BPQ−D' : datum.label=='i' ? 'Isabel−D' : datum.label=='n' ? 'INCL−D' : 'INCL−A'",
"labelFont":"Liberation Sans","labelFontSize":13,"labelFontWeight":"bold","labelColor":"black","labelOffset":13,
"symbolType":"M-1.5,0H1.5","symbolSize":144,"symbolStrokeWidth":2,
"encode":{"symbols":{"update":{"shape":{"signal":"datum.value==='d' ? 'circle' : 'M-1.5,0H1.5'"},"fill":{"signal":"datum.value==='d' ? 'black' : 'transparent'"},"size":{"signal":"datum.value==='d' ? 18 : 144"}}}}}}
}},
{"transform":[{"filter":"datum.s==='i'"}],"mark":{"type":"line","clip":true,"color":"black","strokeWidth":1.5,"strokeDash":[1,2]}},
{"transform":[{"filter":"datum.s==='n'"}],"mark":{"type":"line","clip":true,"color":"#1030ff","strokeWidth":1.8,"strokeDash":[3,3]}},
{"transform":[{"filter":"datum.s==='g'"}],"mark":{"type":"line","clip":true,"color":"#22ee22","strokeWidth":2,"strokeDash":[5,3,1,3]}},
{"transform":[{"filter":"datum.s==='d'"}],"mark":{"type":"point","filled":true,"clip":true,"color":"black","size":11,"opacity":1}},
{"transform":[{"filter":"datum.s==='d'"},{"window":[{"op":"row_number","as":"rn"}],"groupby":["z"]},{"filter":"datum.rn===1"}],
"mark":{"type":"text","font":"Liberation Sans","fontSize":15,"fontWeight":"bold","color":"black","align":"center","baseline":"middle"},
"encoding":{"x":{"datum":177},"y":{"datum":60},"text":{"field":"z","type":"nominal"}}}
]
}
}]
}],
"config":{
"view":{"stroke":"black","strokeWidth":2},
"header":{"labels":false},
"axis":{"domain":false,"ticks":false,"labelFont":"Liberation Sans","labelFontSize":10,"labelFontWeight":"bold","labelColor":"black","titleFont":"DejaVu Sans","titleFontSize":18,"titleFontWeight":"normal","titleColor":"black","gridColor":"black","gridOpacity":1,"gridWidth":1}
}
}
